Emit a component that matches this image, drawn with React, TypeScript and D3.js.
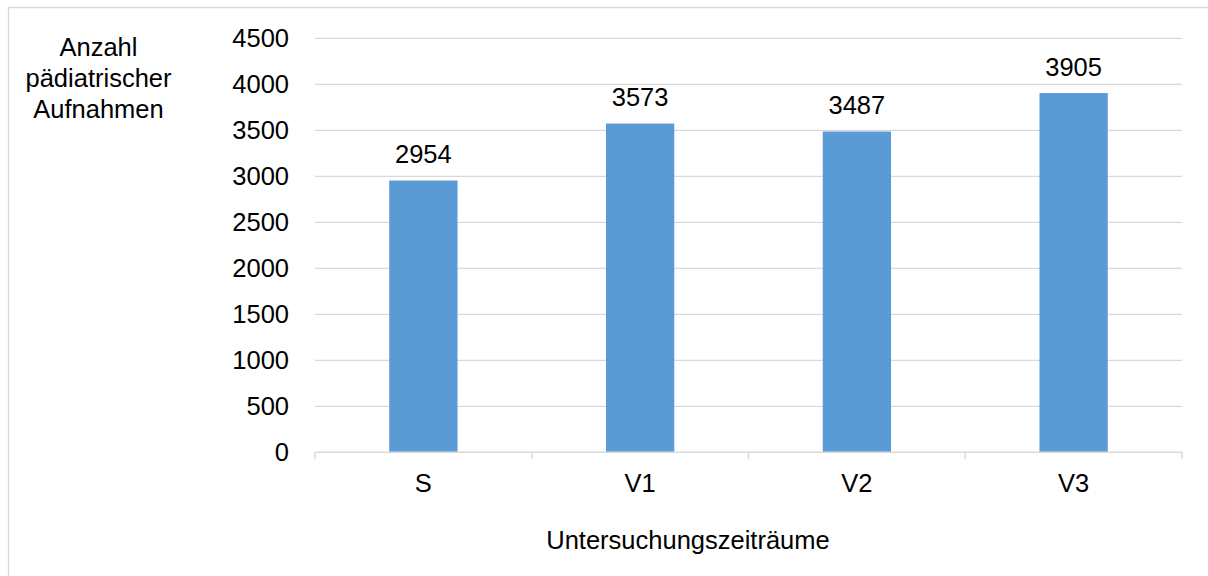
import React, { useRef, useEffect } from 'react';
import * as d3 from 'd3';

const categories = ['S', 'V1', 'V2', 'V3'];
const values = [2954, 3573, 3487, 3905];
const yTicks = [0, 500, 1000, 1500, 2000, 2500, 3000, 3500, 4000, 4500];
const yTitleLines = ['Anzahl', 'pädiatrischer', 'Aufnahmen'];
const xTitle = 'Untersuchungszeiträume';

const App = () => {
  const svgRef = useRef<SVGSVGElement>(null);

  useEffect(() => {
    const width = 1208;
    const height = 576;
    const plot = { left: 315, right: 1182, top: 38.3, bottom: 452.3 };
    const font = 'Arial, "Liberation Sans", sans-serif';
    const fontSize = 25.5;
    const grid = '#d9d9d9';

    const svg = d3.select(svgRef.current)
      .attr('width', width)
      .attr('height', height);

    svg.selectAll('*').remove(); // start clean

    svg.append('rect')
      .attr('width', width)
      .attr('height', height)
      .attr('fill', '#fff');

    // outer chart frame (left + top visible)
    svg.append('path')
      .attr('d', `M8.5,${height} V7.5 H${width}`)
      .attr('fill', 'none')
      .attr('stroke', grid)
      .attr('stroke-width', 1.3);

    const xScale = d3.scaleBand()
      .domain(categories)
      .range([plot.left, plot.right])
      .paddingInner(0)
      .paddingOuter(0);

    const yScale = d3.scaleLinear()
      .domain([0, 4500])
      .range([plot.bottom, plot.top]);

    // gridlines
    svg.append('g')
      .selectAll('line')
      .data(yTicks.filter(d => d > 0))
      .enter()
      .append('line')
      .attr('x1', plot.left)
      .attr('x2', plot.right)
      .attr('y1', d => yScale(d))
      .attr('y2', d => yScale(d))
      .attr('stroke', grid)
      .attr('stroke-width', 1.3);

    // y tick labels
    svg.append('g')
      .selectAll('text')
      .data(yTicks)
      .enter()
      .append('text')
      .attr('x', 289)
      .attr('y', d => yScale(d))
      .attr('dy', '0.36em')
      .attr('text-anchor', 'end')
      .attr('font-family', font)
      .attr('font-size', fontSize)
      .attr('fill', '#000')
      .text(d => d);

    // bars
    const barW = xScale.bandwidth() * 0.315;
    svg.append('g')
      .selectAll('rect')
      .data(values)
      .enter()
      .append('rect')
      .attr('x', (d, i) => xScale(categories[i])! + xScale.bandwidth() / 2 - barW / 2)
      .attr('y', d => yScale(d))
      .attr('width', barW)
      .attr('height', d => yScale(0) - yScale(d))
      .attr('fill', '#5b9bd5');

    // value labels
    svg.append('g')
      .selectAll('text')
      .data(values)
      .enter()
      .append('text')
      .attr('x', (d, i) => xScale(categories[i])! + xScale.bandwidth() / 2)
      .attr('y', d => yScale(d) - 17.5)
      .attr('text-anchor', 'middle')
      .attr('font-family', font)
      .attr('font-size', fontSize)
      .attr('fill', '#000')
      .text(d => d);

    // x axis line + ticks at band edges
    svg.append('line')
      .attr('x1', plot.left)
      .attr('x2', plot.right)
      .attr('y1', yScale(0))
      .attr('y2', yScale(0))
      .attr('stroke', grid)
      .attr('stroke-width', 1.5);

    const edges = categories.map(c => xScale(c)!).concat([plot.right]);
    svg.append('g')
      .selectAll('line')
      .data(edges)
      .enter()
      .append('line')
      .attr('x1', d => d)
      .attr('x2', d => d)
      .attr('y1', yScale(0))
      .attr('y2', yScale(0) + 7)
      .attr('stroke', grid)
      .attr('stroke-width', 1.5);

    // category labels
    svg.append('g')
      .selectAll('text')
      .data(categories)
      .enter()
      .append('text')
      .attr('x', d => xScale(d)! + xScale.bandwidth() / 2)
      .attr('y', 492)
      .attr('text-anchor', 'middle')
      .attr('font-family', font)
      .attr('font-size', fontSize)
      .attr('fill', '#000')
      .text(d => d);

    // x title
    svg.append('text')
      .attr('x', 688)
      .attr('y', 548.5)
      .attr('text-anchor', 'middle')
      .attr('font-family', font)
      .attr('font-size', fontSize)
      .attr('fill', '#000')
      .text(xTitle);

    // y title (horizontal, three lines)
    svg.append('g')
      .selectAll('text')
      .data(yTitleLines)
      .enter()
      .append('text')
      .attr('x', 98.5)
      .attr('y', (d, i) => 56 + i * 31)
      .attr('text-anchor', 'middle')
      .attr('font-family', font)
      .attr('font-size', fontSize)
      .attr('fill', '#000')
      .text(d => d);
  }, []);

  return (
    <svg
      ref={svgRef}
      style={{ position: 'absolute', left: 0, top: 0, display: 'block' }}
    ></svg>
  );
};

export default App;
